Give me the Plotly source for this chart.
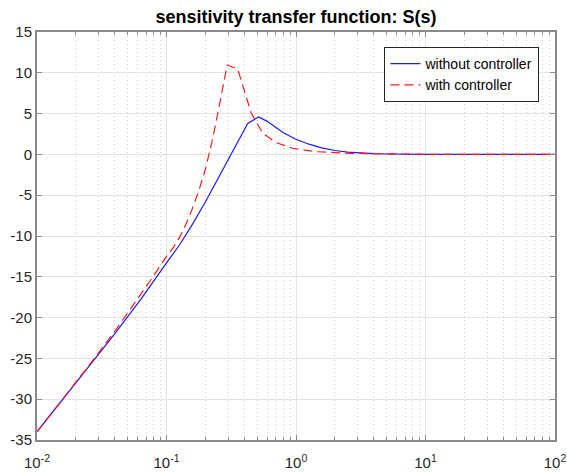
import plotly.graph_objects as go

# ---- data ----
freq_without = [0.01, 0.0158, 0.0251, 0.0398, 0.0631, 0.0794, 0.1, 0.126, 0.158, 0.2,
                0.251, 0.316, 0.355, 0.424, 0.515, 0.6, 0.7, 0.8, 1.0, 1.26, 1.58,
                2.0, 2.51, 3.16, 3.98, 5.01, 6.31, 10.0, 100.0]
mag_without = [-34.0, -30.0, -26.0, -22.0, -17.8, -15.5, -13.3, -11.1, -8.6, -5.8,
               -2.9, 0.0, 1.5, 3.8, 4.6, 4.05, 3.3, 2.65, 1.85, 1.25, 0.8,
               0.48, 0.28, 0.16, 0.09, 0.05, 0.03, 0.01, 0.0]

freq_with = [0.01, 0.0158, 0.0251, 0.0398, 0.0631, 0.0794, 0.1, 0.112, 0.126, 0.141,
             0.158, 0.178, 0.2, 0.224, 0.251, 0.294, 0.355, 0.45, 0.552, 0.7, 0.94,
             1.43, 2.57, 5.0, 10.0, 100.0]
mag_with = [-34.0, -30.0, -25.9, -21.7, -17.2, -14.9, -12.5, -11.5, -10.2, -8.6,
            -6.7, -4.4, -1.8, 1.5, 5.3, 10.95, 10.45, 5.1, 2.6, 1.45, 0.75,
            0.33, 0.13, 0.04, 0.01, 0.0]

series_names = ["without controller", "with controller"]
title_text = "sensitivity transfer function: S(s)"

x_tick_vals = [0.01, 0.1, 1, 10, 100]
x_tick_text = ["10<sup>-2</sup>", "10<sup>-1</sup>", "10<sup>0</sup>", "10<sup>1</sup>", "10<sup>2</sup>"]
x_minor_vals = [m * d for d in [0.01, 0.1, 1, 10] for m in [2, 3, 4, 5, 6, 7, 8, 9]]

y_tick_vals = [-35, -30, -25, -20, -15, -10, -5, 0, 5, 10, 15]
y_tick_text = ["-35", "-30", "-25", "-20", "-15", "-10", "-5", "0", "5", "10", "15"]

# ---- styling ----
FONT = "Liberation Sans, Arial, Helvetica, sans-serif"
AXIS_COLOR = "#8a8a8a"
TEXT_COLOR = "#262626"

fig = go.Figure()
fig.add_trace(go.Scatter(x=freq_without, y=mag_without, mode="lines", name=series_names[0],
                         line=dict(color="#1a1aff", width=1.2)))
fig.add_trace(go.Scatter(x=freq_with, y=mag_with, mode="lines", name=series_names[1],
                         line=dict(color="#ff1a1a", width=1.2, dash="9px,5px")))

fig.update_layout(
    width=567, height=472,
    margin=dict(l=37, r=12, t=32, b=32, pad=0, autoexpand=False),
    paper_bgcolor="white", plot_bgcolor="white",
    font=dict(family=FONT, size=15, color=TEXT_COLOR),
    title=dict(text="<b>" + title_text + "</b>", x=0.5, xref="paper", xanchor="center",
               y=1 - 17 / 472, yref="container", yanchor="middle",
               font=dict(family=FONT, size=18, color="black")),
    showlegend=True,
    legend=dict(x=0.97, xanchor="right", y=0.963, yanchor="top",
                bgcolor="white", bordercolor=TEXT_COLOR, borderwidth=1,
                font=dict(family=FONT, size=14, color="black"),
                tracegroupgap=0),
)

fig.update_xaxes(
    type="log", range=[-2, 2], automargin=False,
    tickmode="array", tickvals=x_tick_vals, ticktext=x_tick_text,
    ticks="inside", ticklen=5, tickcolor=AXIS_COLOR, tickwidth=1,
    showline=True, linecolor=AXIS_COLOR, linewidth=2, mirror="allticks",
    showgrid=True, gridcolor="#e3e3e3", gridwidth=1, zeroline=False,
    tickfont=dict(family=FONT, size=15, color=TEXT_COLOR),
    ticklabelstandoff=8,
    minor=dict(tickmode="array", tickvals=x_minor_vals, ticks="inside", ticklen=3,
               tickcolor=AXIS_COLOR, showgrid=True, gridcolor="#cdcdcd",
               griddash="1px,3px", gridwidth=1),
)
fig.update_yaxes(
    range=[-35, 15], automargin=False,
    tickmode="array", tickvals=y_tick_vals, ticktext=y_tick_text,
    ticks="inside", ticklen=5, tickcolor=AXIS_COLOR, tickwidth=1,
    showline=True, linecolor=AXIS_COLOR, linewidth=2, mirror="allticks",
    showgrid=True, gridcolor="#e3e3e3", gridwidth=1, zeroline=False,
    tickfont=dict(family=FONT, size=15, color=TEXT_COLOR),
)

fig.write_html("out.html")
